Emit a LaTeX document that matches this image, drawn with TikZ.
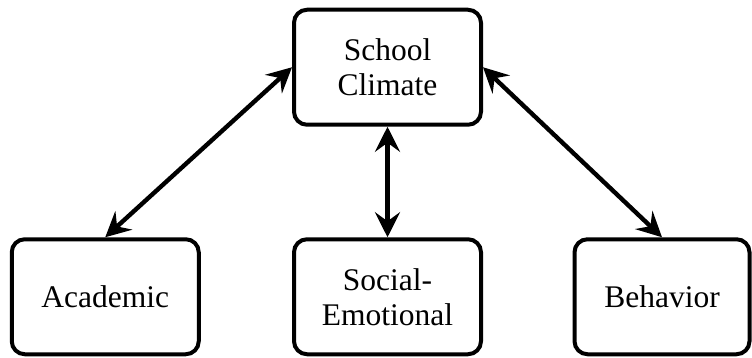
\documentclass[tikz,border=0pt]{standalone}
\usepackage{fontspec}
\setmainfont{Liberation Serif}
\usetikzlibrary{arrows.meta}
\begin{document}
\begin{tikzpicture}[x=1pt,y=-1pt,
  box/.style={draw=black, line width=4pt, rounded corners=13pt, fill=white,
    minimum width=187pt, minimum height=115pt, align=center, inner sep=0pt,
    font=\fontsize{31.5}{35}\selectfont},
  tip/.style={Stealth[length=25pt,width=25pt,inset=9pt]},
  arr/.style={line width=4.4pt, {Stealth[length=25pt,width=25pt,inset=9pt]}-{Stealth[length=25pt,width=25pt,inset=9pt]}}]
\useasboundingbox (0,0) rectangle (752,358);
\node[box] (school) at (387.5,67.25) {School\\Climate};
\node[box] (academic) at (105.25,296.75) {Academic};
\node[box] (social) at (387.5,296.75) {Social-\\Emotional};
\node[box, minimum width=175pt] (behavior) at (662,296.75) {Behavior};
\draw[arr] (academic.north) -- (school.west);
\draw[arr] (school.south) -- (social.north);
\draw[arr] (behavior.north) -- (school.east);
\end{tikzpicture}
\end{document}
